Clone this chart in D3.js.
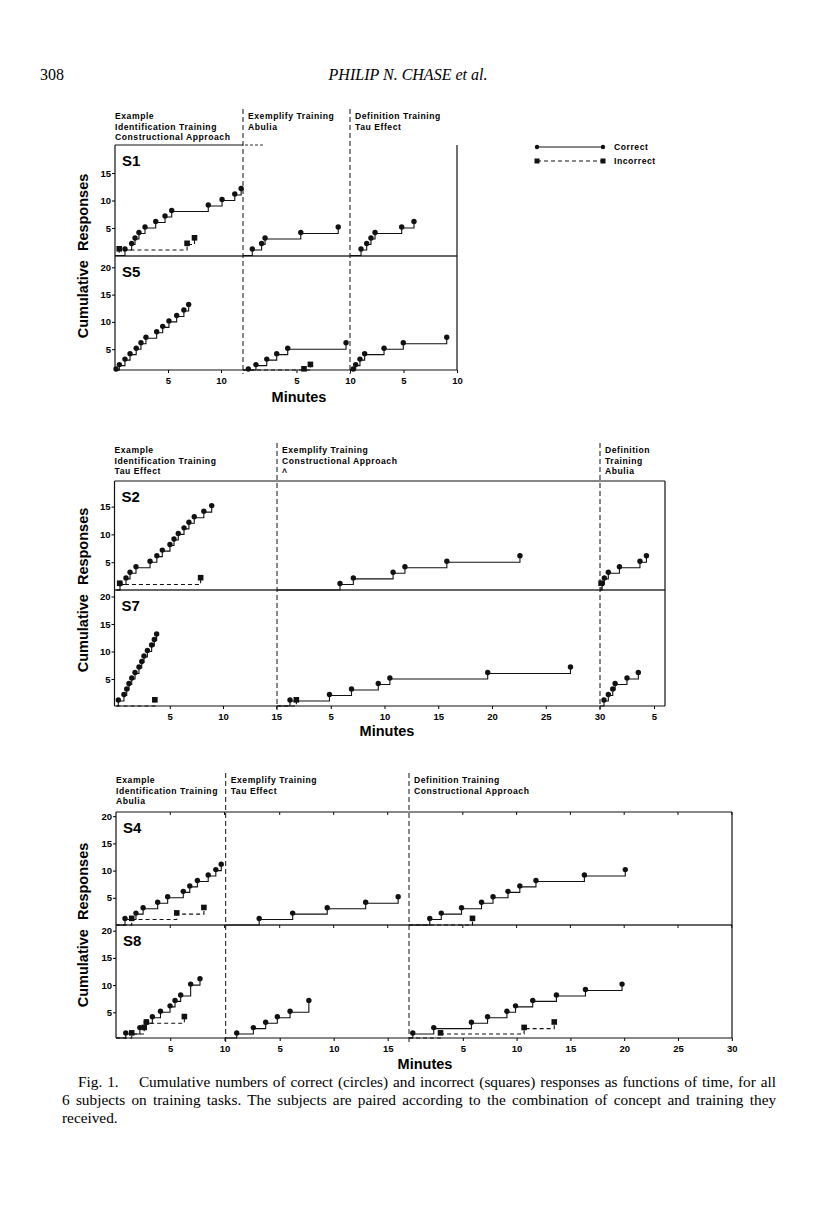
<!DOCTYPE html>
<html><head><meta charset="utf-8">
<script src="https://cdn.jsdelivr.net/npm/d3@7"></script>
<style>
body{margin:0;background:#fff}
svg text{font-family:"Liberation Sans",Arial,sans-serif}
</style></head><body>
<svg id="page" width="816" height="1209"></svg>
<script>
// each record: [minutes into phase, cumulative responses]
const s1ExCorrect = [[0.94,1],[1.57,2],[1.89,3],[2.26,4],[2.83,5],[3.84,6],[4.72,7],[5.35,8],[8.8,9],[10.1,10],[11.3,11],[11.9,12]];
const s1ExIncorrect = [[0.4,1],[6.8,2],[7.5,3]];
const s1EmCorrect = [[0.87,1],[1.74,2],[2.06,3],[5.4,4],[8.9,5]];
const s1DefCorrect = [[1.03,1],[1.56,2],[1.96,3],[2.34,4],[4.83,5],[5.98,6]];

const s5ExCorrect = [[0.1,1],[0.41,2],[0.94,3],[1.42,4],[2.0,5],[2.45,6],[2.92,7],[3.93,8],[4.5,9],[5.09,10],[5.82,11],[6.5,12],[6.95,13]];
const s5EmCorrect = [[0.5,1],[1.21,2],[2.22,3],[3.15,4],[4.18,5],[9.63,6]];
const s5EmIncorrect = [[5.7,1],[6.3,2]];
const s5DefCorrect = [[0.3,1],[0.53,2],[0.93,3],[1.37,4],[3.18,5],[4.98,6],[9.04,7]];

const s2ExCorrect = [[0.33,1],[0.89,2],[1.27,3],[1.83,4],[3.15,5],[3.79,6],[4.3,7],[5.02,8],[5.4,9],[5.8,10],[6.34,11],[6.8,12],[7.3,13],[8.2,14],[8.94,15]];
const s2ExIncorrect = [[0.3,1],[7.9,2]];
const s2EmCorrect = [[5.86,1],[7.1,2],[10.8,3],[11.9,4],[15.8,5],[22.6,6]];
const s2DefCorrect = [[0.2,1],[0.4,2],[0.77,3],[1.8,4],[3.7,5],[4.3,6]];
const s2DefIncorrect = [[0.1,1]];

const s7ExCorrect = [[0.17,1],[0.7,2],[0.96,3],[1.17,4],[1.43,5],[1.74,6],[2.11,7],[2.37,8],[2.58,9],[2.9,10],[3.3,11],[3.55,12],[3.77,13]];
const s7ExIncorrect = [[3.6,1]];
const s7EmCorrect = [[1.21,1],[4.88,2],[6.93,3],[9.42,4],[10.5,5],[19.6,6],[27.3,7]];
const s7EmIncorrect = [[1.8,1]];
const s7DefCorrect = [[0.37,1],[0.77,2],[1.18,3],[1.4,4],[2.5,5],[3.55,6]];

const s4ExCorrect = [[0.83,1],[1.84,2],[2.5,3],[3.84,4],[4.76,5],[6.2,6],[6.8,7],[7.5,8],[8.5,9],[9.2,10],[9.7,11]];
const s4ExIncorrect = [[1.45,1],[5.6,2],[8.1,3]];
const s4EmCorrect = [[3.1,1],[6.2,2],[9.4,3],[12.96,4],[15.97,5]];
const s4DefCorrect = [[1.93,1],[3.0,2],[4.88,3],[6.74,4],[7.81,5],[9.2,6],[10.3,7],[11.8,8],[16.3,9],[20.1,10]];
const s4DefIncorrect = [[5.9,1]];

const s8ExCorrect = [[0.9,1],[2.2,2],[2.8,3],[3.35,4],[4.1,5],[4.98,6],[5.44,7],[5.96,8],[6.88,10],[7.74,11]];
const s8ExIncorrect = [[1.45,1],[2.6,2],[2.8,3],[6.3,4]];
const s8EmCorrect = [[1.02,1],[2.56,2],[3.7,3],[4.78,4],[5.96,5],[7.7,7]];
const s8DefCorrect = [[0.35,1],[2.3,2],[5.8,3],[7.3,4],[9.1,5],[9.9,6],[11.5,7],[13.7,8],[16.4,9],[19.8,10]];
const s8DefIncorrect = [[2.93,1],[10.7,2],[13.5,3]];

// phase headings and tick labels
const fig1Heads = [["Example","Identification Training","Constructional Approach"],["Exemplify Training","Abulia"],["Definition Training","Tau Effect"]];
const fig2Heads = [["Example","Identification Training","Tau Effect"],["Exemplify Training","Constructional Approach","\u02C4"],["Definition","Training","Abulia"]];
const fig3Heads = [["Example","Identification Training","Abulia"],["Exemplify Training","Tau Effect"],["Definition Training","Constructional Approach"]];
const fig1XTicks = [[5,10],[5,10],[5,10]];
const fig2XTicks = [[5,10,15],[5,10,15,20,25,30],[5]];
const fig3XTicks = [[5,10],[5,10,15],[5,10,15,20,25,30]];
const legendLabels = ["Correct","Incorrect"];
const captionLines = [
  "Fig. 1.\u2003 Cumulative numbers of correct (circles) and incorrect (squares) responses as functions of time, for all",
  "6 subjects on training tasks. The subjects are paired according to the combination of concept and training they",
  "received."
];

const svg = d3.select("#page");

svg.append("text").attr("x", 40).attr("y", 80)
  .style("font-family", "'Liberation Serif',serif").style("font-size", "16px").text("308");
svg.append("text").attr("x", 408).attr("y", 80).attr("text-anchor", "middle")
  .style("font-family", "'Liberation Serif',serif").style("font-size", "16px").style("font-style", "italic")
  .text("PHILIP N. CHASE et al.");

// figure layout (pixel geometry)
const figures = [
  {left:115, right:457, top:145, mid:256, bottom:370, headY:119, heads:fig1Heads, xticks:fig1XTicks,
   minutesX:299, minutesY:402, innerTicks:false, topBreak:true,
   phases:[{o:115, k:10.6, end:243}, {o:243, k:10.7, end:350}, {o:350, k:10.7, end:457}],
   panels:[
     {name:"S1", y0:255.5, k:5.5, yticks:[5,10,15], series:[[s1ExCorrect,s1ExIncorrect],[s1EmCorrect,null],[s1DefCorrect,null]]},
     {name:"S5", y0:376.5, k:5.46, yticks:[5,10,15,20], series:[[s5ExCorrect,null],[s5EmCorrect,s5EmIncorrect],[s5DefCorrect,null]]}
   ]},
  {left:114.5, right:665, top:481, mid:590, bottom:706, headY:453, heads:fig2Heads, xticks:fig2XTicks,
   minutesX:387, minutesY:736, innerTicks:false, topBreak:false,
   phases:[{o:116.5, k:10.65, end:277}, {o:277, k:10.75, end:600}, {o:600, k:10.8, end:665}],
   panels:[
     {name:"S2", y0:590, k:5.56, yticks:[5,10,15], series:[[s2ExCorrect,s2ExIncorrect],[s2EmCorrect,null],[s2DefCorrect,s2DefIncorrect]]},
     {name:"S7", y0:706.5, k:5.5, yticks:[5,10,15,20], series:[[s7ExCorrect,s7ExIncorrect],[s7EmCorrect,s7EmIncorrect],[s7DefCorrect,null]]}
   ]},
  {left:116, right:732, top:812, mid:925, bottom:1038, headY:783, heads:fig3Heads, xticks:fig3XTicks,
   minutesX:425, minutesY:1069, innerTicks:true, topBreak:false,
   phases:[{o:116, k:10.85, end:225.7}, {o:225.7, k:10.8, end:408}, {o:409, k:10.76, end:732}],
   panels:[
     {name:"S4", y0:925, k:5.44, yticks:[5,10,15,20], series:[[s4ExCorrect,s4ExIncorrect],[s4EmCorrect,null],[s4DefCorrect,s4DefIncorrect]]},
     {name:"S8", y0:1039.5, k:5.44, yticks:[5,10,15,20], series:[[s8ExCorrect,s8ExIncorrect],[s8EmCorrect,null],[s8DefCorrect,s8DefIncorrect]]}
   ]}
];

figures.forEach(function(f) {
  const g = svg.append("g");
  const boxes = [[f.top, f.mid], [f.mid, f.bottom]];

  // frame
  if (f.topBreak) {
    g.append("line").attr("x1", f.left).attr("x2", f.phases[0].end).attr("y1", f.top).attr("y2", f.top).attr("stroke", "#111");
    g.append("line").attr("x1", f.phases[0].end + 2).attr("x2", f.phases[0].end + 20).attr("y1", f.top).attr("y2", f.top)
      .attr("stroke", "#333").attr("stroke-dasharray", "3,2");
  } else {
    g.append("line").attr("x1", f.left).attr("x2", f.right).attr("y1", f.top).attr("y2", f.top).attr("stroke", "#111");
  }
  g.append("line").attr("x1", f.left).attr("x2", f.right).attr("y1", f.mid).attr("y2", f.mid).attr("stroke", "#333").attr("stroke-width", 1.3);
  g.append("line").attr("x1", f.left).attr("x2", f.right).attr("y1", f.bottom).attr("y2", f.bottom).attr("stroke", "#111").attr("stroke-width", 1.2);
  g.append("line").attr("x1", f.left).attr("x2", f.left).attr("y1", f.top).attr("y2", f.bottom).attr("stroke", "#111").attr("stroke-width", 1.2);
  g.append("line").attr("x1", f.right).attr("x2", f.right).attr("y1", f.top).attr("y2", f.bottom).attr("stroke", "#111").attr("stroke-width", 1.2);

  // x scales per phase
  const xs = f.phases.map(function(p) {
    const start = p === f.phases[0] ? f.left : p.o;
    return d3.scaleLinear().domain([(start - p.o) / p.k, (p.end - p.o) / p.k]).range([start, p.end]);
  });

  // dividers
  f.phases.slice(1).forEach(function(p) {
    g.append("line").attr("x1", p.o).attr("x2", p.o).attr("y1", f.headY - 10).attr("y2", f.bottom + 4)
      .attr("stroke", "#111").attr("stroke-dasharray", "5,3");
  });

  // headings
  f.heads.forEach(function(lines, i) {
    const x0 = i === 0 ? f.left : f.phases[i].o + 5;
    lines.forEach(function(t, j) {
      g.append("text").attr("x", x0).attr("y", f.headY + j * 10.7)
        .style("font-size", "8.6px").style("font-weight", "bold").style("letter-spacing", "0.55px").text(t);
    });
  });

  // x axes
  xs.forEach(function(x, i) {
    const ax = d3.axisBottom(x).tickValues(f.xticks[i]).tickSize(3).tickSizeOuter(0).tickFormat(d3.format("d"));
    const a = g.append("g").attr("transform", "translate(0," + f.bottom + ")").call(ax);
    a.select(".domain").remove();
    a.selectAll("text").style("font-size", "9.5px").style("font-weight", "bold").attr("dy", "0.85em");
    if (f.innerTicks) {
      [f.top, f.mid].forEach(function(yy) {
        g.append("g").selectAll("line").data(f.xticks[i]).join("line")
          .attr("x1", d => x(d)).attr("x2", d => x(d)).attr("y1", yy).attr("y2", yy + 3).attr("stroke", "#111");
      });
    }
  });

  g.append("text").attr("x", f.minutesX).attr("y", f.minutesY).attr("text-anchor", "middle")
    .style("font-size", "14.5px").style("font-weight", "bold").text("Minutes");
  g.append("text").attr("transform", "translate(88," + f.mid + ") rotate(-90)").attr("text-anchor", "middle")
    .style("font-size", "14.5px").style("font-weight", "bold").style("word-spacing", "5px").text("Cumulative Responses");

  // panels
  f.panels.forEach(function(p, pi) {
    const b = boxes[pi];
    const y = d3.scaleLinear().domain([(p.y0 - b[1]) / p.k, (p.y0 - b[0]) / p.k]).range([b[1], b[0]]).clamp(true);
    const ay = g.append("g").attr("transform", "translate(" + f.left + ",0)")
      .call(d3.axisLeft(y).tickValues(p.yticks).tickSize(3).tickSizeOuter(0).tickFormat(d3.format("d")));
    ay.select(".domain").remove();
    ay.selectAll("text").style("font-size", "9.5px").style("font-weight", "bold").attr("x", -4);

    g.append("text").attr("x", f.left + 7).attr("y", b[0] + 21)
      .style("font-size", "15px").style("font-weight", "bold").text(p.name);

    p.series.forEach(function(pair, si) {
      const x = xs[si];
      const line = d3.line().x(d => x(d[0])).y(d => y(d[1])).curve(d3.curveStepAfter);
      pair.forEach(function(s, kind) {
        if (!s) return;
        const pts = [[0, 0]].concat(s);
        g.append("path").attr("d", line(pts)).attr("fill", "none").attr("stroke", "#111")
          .attr("stroke-width", 1.1).attr("stroke-dasharray", kind === 1 ? "4,3" : null);
        if (kind === 0) {
          g.append("g").selectAll("circle").data(s).join("circle")
            .attr("cx", d => x(d[0])).attr("cy", d => y(d[1]) - 1).attr("r", 2.7).attr("fill", "#111");
        } else {
          g.append("g").selectAll("rect").data(s).join("rect")
            .attr("x", d => x(d[0]) - 2.8).attr("y", d => y(d[1]) - 4).attr("width", 5.6).attr("height", 5.6).attr("fill", "#111");
        }
      });
    });
  });
});

// legend (first figure)
const lg = svg.append("g");
legendLabels.forEach(function(t, i) {
  const yy = 147 + i * 14;
  lg.append("line").attr("x1", 537).attr("x2", 603).attr("y1", yy).attr("y2", yy).attr("stroke", "#111")
    .attr("stroke-dasharray", i ? "4,3" : null);
  if (i === 0) {
    lg.selectAll(null).data([537, 603]).join("circle").attr("cx", d => d).attr("cy", yy).attr("r", 2.2).attr("fill", "#111");
  } else {
    lg.selectAll(null).data([537, 603]).join("rect").attr("x", d => d - 2.5).attr("y", yy - 2.5).attr("width", 5).attr("height", 5).attr("fill", "#111");
  }
  lg.append("text").attr("x", 614).attr("y", yy + 3).style("font-size", "8.6px").style("font-weight", "bold")
    .style("letter-spacing", "0.55px").text(t);
});

// caption, justified by adjusting word gaps
captionLines.forEach(function(t, i) {
  const x0 = i === 0 ? 78 : 62;
  const tx = svg.append("text").attr("x", x0).attr("y", 1087 + i * 18)
    .style("font-family", "'Liberation Serif',serif").style("font-size", "15.3px").text(t);
  if (i < 2) {
    const natural = tx.node().getComputedTextLength();
    const gaps = t.split(" ").length - 1;
    tx.style("word-spacing", ((776 - x0 - natural) / gaps).toFixed(2) + "px");
  }
});
</script></body></html>
